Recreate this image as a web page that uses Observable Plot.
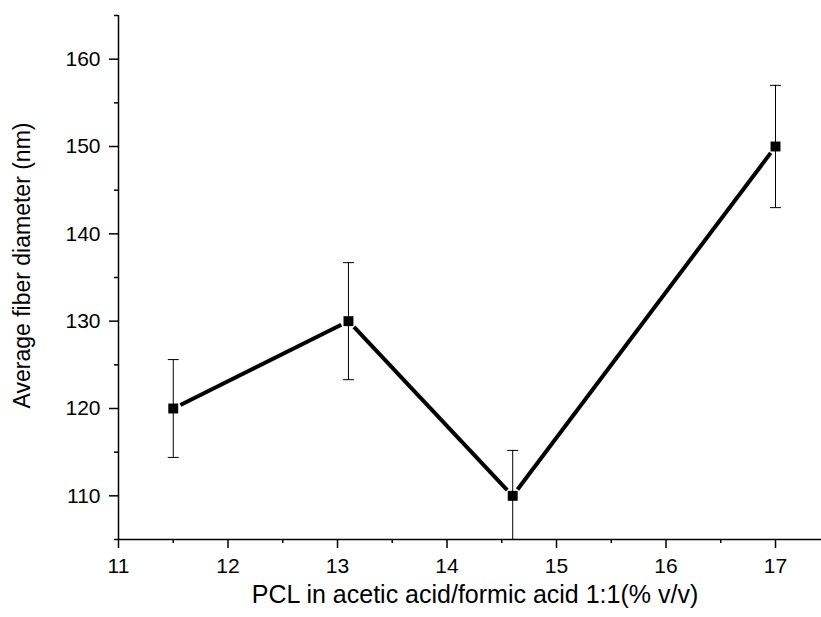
<!DOCTYPE html>
<html>
<head>
<meta charset="utf-8">
<script src="https://cdn.jsdelivr.net/npm/d3@7"></script>
<script src="https://cdn.jsdelivr.net/npm/@observablehq/plot@0.6"></script>
<style>
  html, body { margin: 0; padding: 0; background: #fff; }
</style>
</head>
<body>
<div id="chart"></div>
<script>
// PCL concentration (% v/v) and measured average fiber diameter (nm) with error
const concentration = [11.5, 13.1, 14.6, 17];
const diameter = [120, 130, 110, 150];
const errorBar = [5.6, 6.7, 5.2, 7];

const xTicks = [11, 12, 13, 14, 15, 16, 17];
const xMinorTicks = [11.5, 12.5, 13.5, 14.5, 15.5, 16.5];
const yTicks = [110, 120, 130, 140, 150, 160];
const yMinorTicks = [105, 115, 125, 135, 145, 155, 165];

const xLabel = "PCL in acetic acid/formic acid 1:1(% v/v)";
const yLabel = "Average fiber diameter (nm)";

const points = concentration.map((x, i) => ({
  x, y: diameter[i], lo: diameter[i] - errorBar[i], hi: diameter[i] + errorBar[i]
}));
const segments = points.slice(1).map((p, i) => ({
  x1: points[i].x, y1: points[i].y, x2: p.x, y2: p.y
}));

// horizontal cap for the error bars
const capSymbol = {
  draw(ctx) { ctx.moveTo(-5.5, 0); ctx.lineTo(5.5, 0); }
};

const font = "'Liberation Sans', Arial, sans-serif";

const chart = Plot.plot({
  width: 821,
  height: 617,
  marginLeft: 118,
  marginRight: 0,
  marginTop: 15,
  marginBottom: 78,
  style: { fontFamily: font, fontSize: "21px", color: "#000", background: "#fff" },
  x: { domain: [11, 17.42] },
  y: { domain: [105, 165] },
  marks: [
    // error bars
    Plot.ruleX(points, { x: "x", y1: "lo", y2: "hi", stroke: "#000", strokeWidth: 1, clip: true }),
    Plot.dot(points, { x: "x", y: "hi", symbol: capSymbol, stroke: "#000", strokeWidth: 1, clip: true }),
    Plot.dot(points, { x: "x", y: "lo", symbol: capSymbol, stroke: "#000", strokeWidth: 1, clip: true }),
    // connecting line, stopping short of the markers
    Plot.arrow(segments, {
      x1: "x1", y1: "y1", x2: "x2", y2: "y2",
      headLength: 0, insetStart: 8, insetEnd: 8,
      stroke: "#000", strokeWidth: 4, strokeLinecap: "butt"
    }),
    // markers
    Plot.dot(points, { x: "x", y: "y", symbol: "square", r: 5.6, fill: "#000", stroke: "none" }),
    // axes
    Plot.axisX({ ticks: xTicks, tickSize: 9, tickPadding: 10, tickFormat: d => String(d), label: null, strokeWidth: 1.5, fontSize: 21 }),
    Plot.axisX({ ticks: xMinorTicks, tickSize: 4, tickFormat: () => "", label: null, strokeWidth: 1.5 }),
    Plot.axisY({ ticks: yTicks, tickSize: 9, tickPadding: 9, tickFormat: d => String(d), label: null, strokeWidth: 1.5, fontSize: 21 }),
    Plot.axisY({ ticks: yMinorTicks, tickSize: 4, tickFormat: () => "", label: null, strokeWidth: 1.5 }),
    Plot.ruleX([11], { stroke: "#000", strokeWidth: 1.5 }),
    Plot.ruleY([105], { stroke: "#000", strokeWidth: 1.5 }),
    // axis titles
    Plot.text([xLabel], { text: d => d, frameAnchor: "bottom", textAnchor: "middle", dy: 63, dx: 5, fontSize: 25, fill: "#000" }),
    Plot.text([yLabel], { text: d => d, frameAnchor: "left", textAnchor: "middle", rotate: -90, dx: -96, dy: -12, fontSize: 23, fill: "#000" })
  ]
});

document.getElementById("chart").appendChild(chart);
</script>
</body>
</html>
